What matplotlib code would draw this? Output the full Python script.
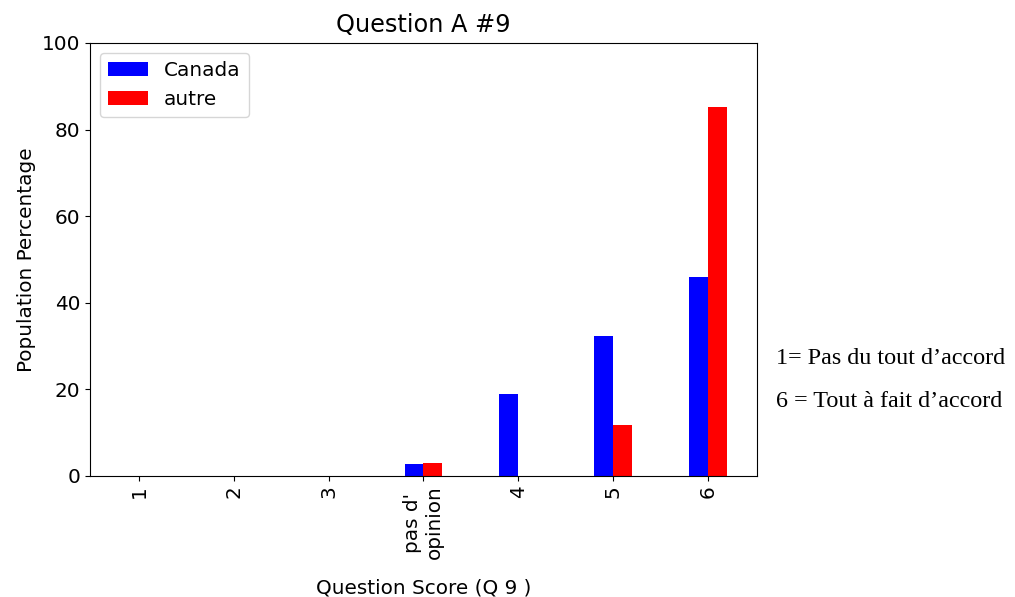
import numpy as np
import matplotlib
matplotlib.use("Agg")
import matplotlib.pyplot as plt

categories = ["1", "2", "3", "pas d'\nopinion", "4", "5", "6"]
canada = [0, 0, 0, 2.7, 18.9, 32.3, 46.0]
autre = [0, 0, 0, 2.9, 0, 11.7, 85.3]

fs = 14.4
fig = plt.figure(figsize=(10.15, 5.97), dpi=100)
ax = fig.add_axes([0.0887, 0.2027, 0.657, 0.7253])

x = np.arange(len(categories))
w = 0.2
ax.bar(x - w / 2, canada, w, color="blue", label="Canada")
ax.bar(x + w / 2, autre, w, color="red", label="autre")

ax.set_ylim(0, 100)
ax.set_xticks(x)
ax.set_xticklabels(categories, rotation=90, fontsize=fs)
ax.tick_params(axis="y", labelsize=fs)
ax.set_title("Question A #9", fontsize=fs * 1.2, pad=8)
ax.set_xlabel("Question Score (Q 9 )", fontsize=fs, labelpad=14)
ax.set_ylabel("Population Percentage", fontsize=fs)
ax.legend(loc="upper left", fontsize=fs)

# side note
fig.text(0.765, 0.400, "1= Pas du tout d\u2019accord", family="Liberation Serif", fontsize=17.4, va="center")
fig.text(0.765, 0.328, "6 = Tout \u00e0 fait d\u2019accord", family="Liberation Serif", fontsize=17.4, va="center")

fig.savefig("out.png", dpi=100)
